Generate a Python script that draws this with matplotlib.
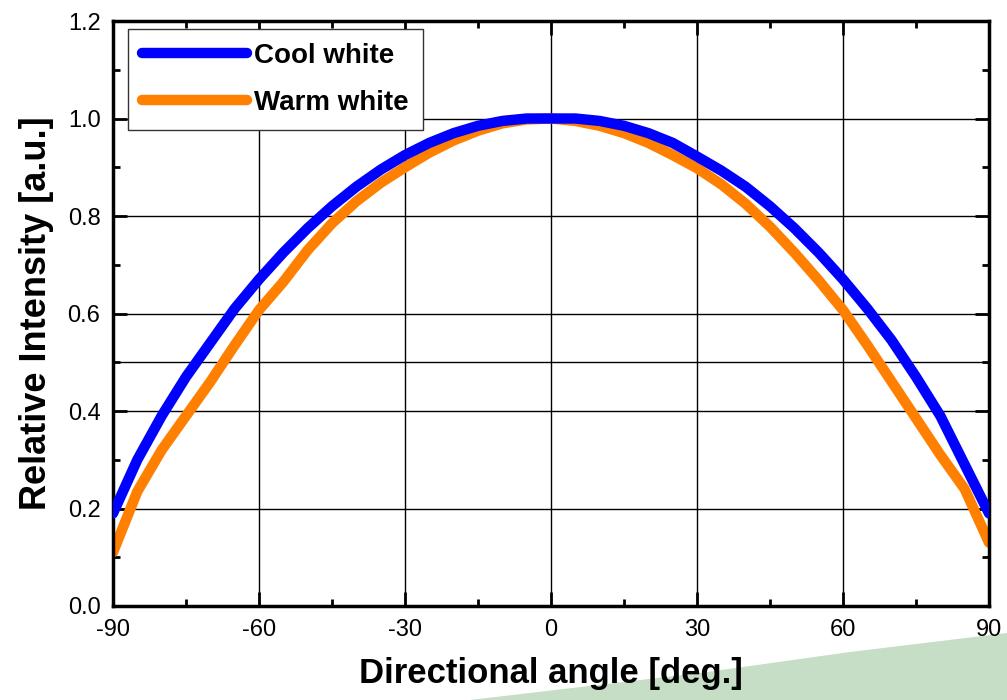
import matplotlib
matplotlib.use("Agg")
import matplotlib.pyplot as plt
from matplotlib.patches import Polygon
from matplotlib.ticker import MultipleLocator

angles = [-90, -85, -80, -75, -70, -65, -60, -55, -50, -45, -40, -35, -30, -25,
          -20, -15, -10, -5, 0, 5, 10, 15, 20, 25, 30, 35, 40, 45, 50, 55, 60,
          65, 70, 75, 80, 85, 90]
cool_white = [0.19, 0.30, 0.39, 0.47, 0.54, 0.61, 0.67, 0.725, 0.775, 0.82, 0.86,
              0.895, 0.925, 0.95, 0.97, 0.985, 0.995, 1.0, 1.0, 1.0, 0.995, 0.985,
              0.97, 0.95, 0.922, 0.893, 0.86, 0.82, 0.775, 0.725, 0.67, 0.61,
              0.545, 0.47, 0.39, 0.29, 0.19]
warm_white = [0.11, 0.235, 0.32, 0.39, 0.46, 0.535, 0.607, 0.665, 0.73, 0.785, 0.83,
              0.868, 0.90, 0.93, 0.955, 0.975, 0.99, 0.998, 1.0, 0.995, 0.985,
              0.97, 0.95, 0.925, 0.898, 0.865, 0.825, 0.778, 0.725, 0.668, 0.607,
              0.535, 0.46, 0.385, 0.31, 0.24, 0.13]
series_names = ["Cool white", "Warm white"]
xticks = [-90, -60, -30, 0, 30, 60, 90]
yticks = [0.0, 0.2, 0.4, 0.6, 0.8, 1.0, 1.2]

plt.rcParams['font.family'] = ['Liberation Sans', 'DejaVu Sans']

W, H = 1007, 700
fig = plt.figure(figsize=(W / 100, H / 100), dpi=100)

ax = fig.add_axes([113 / W, 1 - 606 / H, (989 - 113) / W, (606 - 21) / H])
ax.set_facecolor('white')

# decorative green band at bottom right (behind everything)
poly = Polygon([(470 / W, 0), (700 / W, 1 - 673 / H), (850 / W, 1 - 652 / H),
                (1.0, 1 - 633 / H), (1.0, 0)], closed=True,
               transform=fig.transFigure, facecolor='#c6dec6', edgecolor='none',
               zorder=-10)
fig.patches.append(poly)
ax.set_zorder(5)
ax.patch.set_zorder(0)

ax.plot(angles, cool_white, color='#0000ff', lw=7.5, solid_capstyle='round',
        solid_joinstyle='round', label=series_names[0], zorder=3)
ax.plot(angles, warm_white, color='#ff8000', lw=7.5, solid_capstyle='round',
        solid_joinstyle='round', label=series_names[1], zorder=2)

ax.set_xlim(-90, 90)
ax.set_ylim(0, 1.2)
ax.set_xticks(xticks)
ax.set_xticklabels([str(t) for t in xticks])
ax.set_yticks(yticks)
ax.set_yticklabels([f"{t:.1f}" for t in yticks])
ax.xaxis.set_minor_locator(MultipleLocator(15))
ax.yaxis.set_minor_locator(MultipleLocator(0.1))

# grid lines
for x in [-60, -30, 0, 30, 60]:
    ax.axvline(x, color='black', lw=1.0, zorder=1)
for y in [0.2, 0.4, 0.5, 0.6, 0.8, 1.0]:
    ax.axhline(y, color='black', lw=1.0, zorder=1)

ax.tick_params(which='both', direction='in', top=True, right=True, width=2,
               labelsize=17, pad=9)
ax.tick_params(which='major', length=10)
ax.tick_params(which='minor', length=5)
for s in ax.spines.values():
    s.set_linewidth(2.5)

ax.set_xlabel("Directional angle [deg.]", fontsize=25, fontweight='bold', labelpad=12)
ax.set_ylabel("Relative Intensity [a.u.]", fontsize=26, fontweight='bold', labelpad=10)

leg = ax.legend(loc='upper left', bbox_to_anchor=(0.017, 0.986), borderaxespad=0,
                fancybox=False, framealpha=1, edgecolor='#333333',
                prop={'weight': 'bold', 'size': 20}, handlelength=3.8,
                handletextpad=0.25, labelspacing=0.75, borderpad=0.5)
leg.get_frame().set_linewidth(1.0)

fig.savefig("out.png", dpi=100)
